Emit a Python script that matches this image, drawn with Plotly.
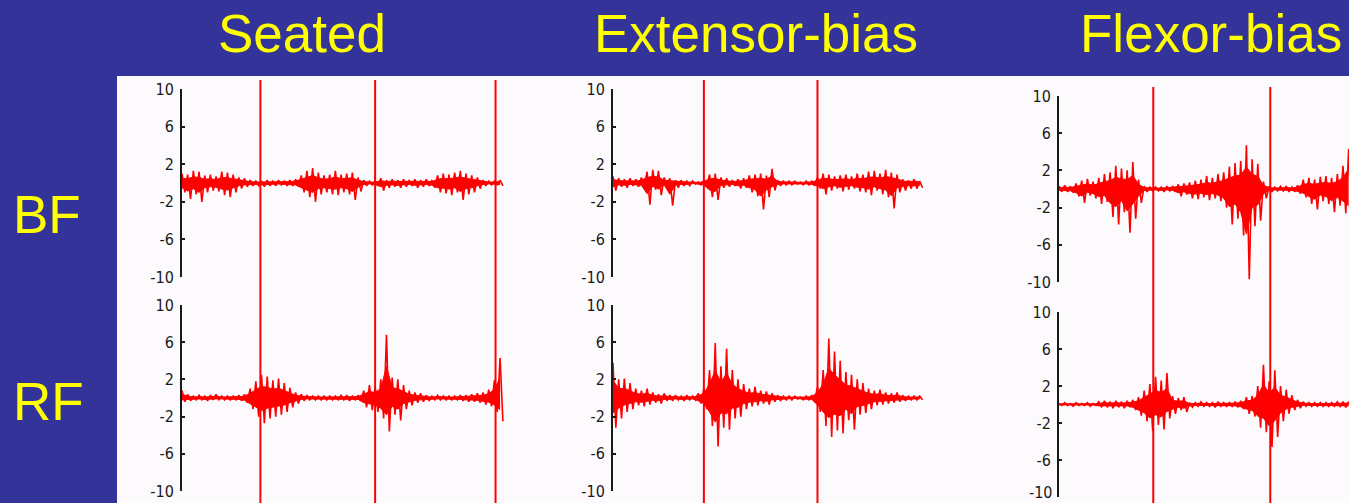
import plotly.graph_objects as go

# ---------------- data ----------------
column_titles = ["Seated", "Extensor-bias", "Flexor-bias"]
row_labels = ["BF", "RF"]
tick_values = [10, 6, 2, -2, -6, -10]
tick_labels = ["10", "6", "2", "-2", "-6", "-10"]
sample_step_s = 0.05  # seconds between envelope samples

# event markers (s) for each condition
seated_events = [0.69, 1.70, 2.76]
extensor_events = [0.80, 1.80]
flexor_events = [0.83, 1.86]

# EMG envelope samples (upper / lower peaks per step)
seated_bf_upper = [1.0, 0.9, 1.3, 1.2, 0.8, 0.9, 0.7, 1.2, 1.1, 0.9, 0.6, 0.5, 0.3, 0.2, 0.2, 0.3, 0.2, 0.3, 0.2, 0.3,
                   0.4, 0.8, 1.3, 1.6, 1.1, 0.8, 0.9, 1.3, 0.9, 1.0, 1.1, 0.6, 0.3, 0.2, 0.2, 0.5, 0.3, 0.4, 0.3, 0.4,
                   0.3, 0.4, 0.3, 0.4, 0.3, 0.8, 1.0, 0.9, 1.1, 1.3, 1.0, 0.8, 0.6, 0.3, 0.2, 0.2, 0.3]
seated_bf_lower = [-1.0, -1.7, -1.2, -2.0, -1.0, -0.8, -0.9, -1.3, -1.5, -1.0, -0.6, -0.4, -0.3, -0.3, -0.4, -0.3, -0.3,
                   -0.2, -0.3, -0.3, -0.4, -1.0, -1.5, -2.0, -1.2, -1.0, -1.2, -1.3, -1.0, -1.2, -1.8, -0.9, -0.3,
                   -0.2, -0.3, -0.8, -0.5, -0.4, -0.5, -0.4, -0.3, -0.5, -0.4, -0.3, -0.5, -1.0, -1.1, -1.3, -1.0,
                   -1.8, -1.2, -1.0, -0.6, -0.3, -0.2, -0.2, -0.3]
seated_rf_upper = [0.8, 0.4, 0.2, 0.3, 0.2, 0.3, 0.4, 0.2, 0.2, 0.2, 0.3, 0.4, 1.0, 1.8, 2.5, 2.3, 1.9, 2.1, 1.6, 1.1,
                   0.6, 0.4, 0.3, 0.2, 0.2, 0.2, 0.2, 0.2, 0.3, 0.3, 0.2, 0.3, 0.8, 1.4, 1.2, 2.0, 6.8, 2.2, 2.0, 1.4,
                   0.8, 0.6, 0.5, 0.3, 0.2, 0.3, 0.2, 0.2, 0.2, 0.3, 0.3, 0.4, 0.5, 0.6, 0.9, 1.9, 4.3]
seated_rf_lower = [-0.4, -0.3, -0.2, -0.2, -0.3, -0.2, -0.2, -0.2, -0.2, -0.2, -0.3, -0.5, -1.2, -2.0, -2.7, -2.2, -2.0,
                   -1.8, -1.5, -1.0, -0.6, -0.3, -0.2, -0.2, -0.2, -0.2, -0.2, -0.2, -0.2, -0.3, -0.2, -0.3, -1.0,
                   -1.3, -1.5, -2.2, -3.6, -1.8, -2.4, -1.2, -0.8, -0.5, -0.4, -0.3, -0.2, -0.2, -0.2, -0.2, -0.2,
                   -0.3, -0.4, -0.4, -0.5, -0.7, -0.9, -1.5, -2.5]

extensor_bf_upper = [0.7, 0.5, 0.4, 0.5, 0.4, 0.6, 1.2, 1.4, 1.3, 0.6, 0.5, 0.3, 0.3, 0.2, 0.2, 0.1, 0.3, 0.9, 1.0, 0.6,
                     0.5, 0.3, 0.4, 0.5, 0.8, 0.9, 1.0, 0.8, 1.5, 0.3, 0.2, 0.2, 0.2, 0.1, 0.2, 0.2, 0.6, 1.0, 0.9,
                     0.7, 0.8, 0.9, 0.7, 1.0, 0.9, 1.2, 1.3, 1.0, 1.4, 1.1, 0.9, 0.4, 0.3, 0.4, 0.2]
extensor_bf_lower = [-0.8, -0.4, -0.5, -0.3, -0.4, -0.5, -2.3, -0.7, -1.3, -0.4, -2.4, -0.5, -0.3, -0.3, -0.1, -0.2,
                     -0.4, -1.5, -1.8, -0.5, -0.4, -0.3, -0.6, -0.5, -1.0, -1.4, -2.8, -1.5, -0.8, -0.3, -0.2, -0.2,
                     -0.1, -0.2, -0.2, -0.3, -0.6, -1.2, -0.8, -0.6, -0.9, -0.7, -0.6, -0.9, -1.0, -1.3, -0.8, -1.2,
                     -1.5, -2.7, -1.0, -0.8, -0.6, -0.6, -0.5]
extensor_rf_upper = [3.8, 2.0, 2.1, 1.6, 1.0, 0.8, 1.0, 0.6, 0.4, 0.5, 0.3, 0.3, 0.2, 0.3, 0.2, 0.5, 1.0, 3.0, 5.9, 3.4,
                     5.3, 3.0, 2.0, 1.5, 1.0, 1.2, 0.8, 0.7, 0.5, 0.3, 0.2, 0.2, 0.2, 0.1, 0.2, 0.3, 1.2, 3.0, 6.4,
                     5.0, 4.0, 2.8, 2.5, 2.0, 1.6, 1.0, 0.8, 0.9, 0.6, 0.5, 0.6, 0.3, 0.2, 0.2, 0.2]
extensor_rf_lower = [-3.2, -2.2, -1.5, -1.2, -0.8, -0.9, -0.7, -0.5, -0.6, -0.3, -0.3, -0.2, -0.3, -0.2, -0.2, -0.6,
                     -1.2, -3.0, -5.2, -3.2, -3.4, -2.2, -2.0, -1.2, -0.9, -0.8, -0.6, -0.7, -0.4, -0.3, -0.2, -0.2,
                     -0.1, -0.2, -0.2, -0.3, -1.5, -3.0, -4.2, -3.5, -3.8, -2.4, -3.4, -1.8, -1.6, -1.2, -0.8, -0.7,
                     -0.6, -0.5, -0.4, -0.3, -0.2, -0.2, -0.2]

flexor_bf_upper = [0.3, 0.4, 0.3, 0.6, 0.9, 1.1, 0.8, 1.2, 1.6, 1.8, 2.5, 2.2, 2.0, 2.9, 1.0, 0.3, 0.2, 0.2, 0.2, 0.3,
                   0.3, 0.5, 0.6, 0.7, 0.9, 1.0, 1.4, 1.2, 1.6, 1.8, 2.4, 2.8, 3.0, 4.7, 3.2, 2.7, 0.8, 0.3, 0.2, 0.3,
                   0.3, 0.2, 0.4, 1.0, 1.2, 1.0, 1.3, 1.4, 1.2, 1.6, 2.5, 4.3]
flexor_bf_lower = [-0.3, -0.3, -0.4, -0.8, -1.5, -0.7, -1.0, -1.6, -1.4, -3.0, -3.8, -2.5, -4.7, -3.2, -1.5, -0.3, -0.2,
                   -0.2, -0.3, -0.2, -0.3, -0.8, -0.6, -1.0, -1.1, -0.9, -1.2, -1.0, -1.3, -2.0, -3.8, -3.2, -5.0,
                   -9.7, -4.0, -3.4, -1.0, -0.3, -0.2, -0.2, -0.3, -0.3, -0.5, -0.9, -1.6, -2.2, -1.3, -1.6, -2.5,
                   -1.8, -2.6, -3.6]
flexor_rf_upper = [0.1, 0.2, 0.1, 0.2, 0.1, 0.2, 0.1, 0.3, 0.4, 0.3, 0.4, 0.3, 0.4, 0.5, 0.8, 1.5, 2.2, 3.0, 2.6, 3.4,
                   0.9, 0.7, 0.8, 0.2, 0.2, 0.3, 0.2, 0.2, 0.3, 0.2, 0.2, 0.3, 0.4, 0.8, 0.9, 2.0, 4.3, 2.5, 3.7, 2.0,
                   1.6, 1.0, 0.5, 0.3, 0.2, 0.2, 0.2, 0.2, 0.2, 0.3, 0.3, 0.3]
flexor_rf_lower = [-0.1, -0.1, -0.2, -0.1, -0.1, -0.2, -0.1, -0.3, -0.3, -0.4, -0.3, -0.4, -0.3, -0.6, -1.2, -1.8, -2.9,
                   -2.2, -2.7, -1.5, -1.0, -0.6, -0.8, -0.3, -0.2, -0.2, -0.2, -0.3, -0.2, -0.2, -0.2, -0.3, -0.5,
                   -1.0, -1.3, -2.5, -3.0, -4.6, -3.5, -1.8, -1.0, -0.6, -0.4, -0.2, -0.2, -0.2, -0.2, -0.2, -0.2,
                   -0.2, -0.3, -0.3]

# ---------------- layout / style ----------------
W, H = 1349, 503
BLUE = "#333399"
YELLOW = "#ffff00"
RED = "#ff0000"
INK = "#1a1a1a"
PX_PER_S = 113.6
CORE_FRACTION = 0.5  # dense inner band of the EMG drawn as solid fill

col_axis_px = [182, 613, 1059]
col_x_end = [2.85, 2.75, 2.553]
# (top px of +10, bottom px of -10) per column for each row
row_px = [
    [(89, 277), (305, 491)],
    [(89, 277), (305, 491)],
    [(96, 282), (312, 497)],
]
line_top_px = [80, 80, 87]
title_cx = [302, 756, 1211]

signals = [
    [(seated_bf_upper, seated_bf_lower), (seated_rf_upper, seated_rf_lower)],
    [(extensor_bf_upper, extensor_bf_lower), (extensor_rf_upper, extensor_rf_lower)],
    [(flexor_bf_upper, flexor_bf_lower), (flexor_rf_upper, flexor_rf_lower)],
]
events = [seated_events, extensor_events, flexor_events]

fig = go.Figure()
layout = dict(
    width=W, height=H, margin=dict(l=0, r=0, t=0, b=0, pad=0, autoexpand=False),
    paper_bgcolor=BLUE, plot_bgcolor="rgba(0,0,0,0)",
    showlegend=False, hovermode=False,
)
shapes = [dict(type="rect", xref="paper", yref="paper", x0=117 / W, x1=1.0,
               y0=0, y1=1 - 76 / H, fillcolor="#fcfafd", line=dict(width=0), layer="below")]

tick_font = dict(family="Liberation Sans Narrow, DejaVu Sans Condensed, Arial Narrow, Liberation Sans",
                 size=16, color=INK)
annotations = []

for c in range(3):
    x0 = col_axis_px[c] / W
    x1 = min(1.0, (col_axis_px[c] + col_x_end[c] * PX_PER_S) / W)
    for r in range(2):
        n = c * 2 + r + 1
        sfx = "" if n == 1 else str(n)
        up, lo = signals[c][r]
        ts = [i * sample_step_s for i in range(len(up))]
        # dense core band
        fig.add_trace(go.Scatter(x=ts, y=[v * CORE_FRACTION for v in up], mode="lines",
                                 line=dict(color=RED, width=1), xaxis="x" + sfx, yaxis="y" + sfx,
                                 hoverinfo="skip"))
        fig.add_trace(go.Scatter(x=ts, y=[v * CORE_FRACTION for v in lo], mode="lines",
                                 line=dict(color=RED, width=1), fill="tonexty", fillcolor=RED,
                                 xaxis="x" + sfx, yaxis="y" + sfx, hoverinfo="skip"))
        # oscillating trace reaching the peaks
        xs, ys = [], []
        for i in range(len(up)):
            xs += [ts[i], ts[i] + sample_step_s / 2]
            ys += [up[i], lo[i]]
        fig.add_trace(go.Scatter(x=xs, y=ys, mode="lines", line=dict(color=RED, width=1.6),
                                 xaxis="x" + sfx, yaxis="y" + sfx, hoverinfo="skip"))
        top, bot = row_px[c][r]
        labels = list(tick_labels)
        if bot > H - 8:
            # lowest label would run past the page edge: place it as text just above the edge
            annotations.append(dict(text=labels[-1], xref="paper", yref="paper",
                                    x=(col_axis_px[c] - 5) / W, y=0, xanchor="right", yanchor="bottom",
                                    showarrow=False, font=tick_font, borderpad=0))
            labels[-1] = ""
        layout["xaxis" + sfx] = dict(domain=[x0, x1], range=[0, col_x_end[c]], visible=False,
                                     anchor="y" + sfx, fixedrange=True, automargin=False)
        layout["yaxis" + sfx] = dict(domain=[1 - bot / H, 1 - top / H], range=[-10, 10],
                                     anchor="x" + sfx, tickmode="array", tickvals=tick_values,
                                     ticktext=labels, ticks="inside", ticklen=3, tickwidth=1.5,
                                     tickcolor=INK, showline=True, linecolor=INK, linewidth=2,
                                     showgrid=False, zeroline=False, tickfont=tick_font,
                                     ticklabelstandoff=3, ticklabeloverflow="allow",
                                     fixedrange=True, automargin=False)
    sfx = "" if c == 0 else str(c * 2 + 1)
    for ev in events[c]:
        shapes.append(dict(type="line", xref="x" + sfx, yref="paper", x0=ev, x1=ev,
                           y0=0, y1=1 - line_top_px[c] / H, line=dict(color=RED, width=2)))

title_font = dict(family="Liberation Sans, Arial, sans-serif", size=53, color=YELLOW)
for c, txt in enumerate(column_titles):
    annotations.append(dict(text=txt, xref="paper", yref="paper", x=title_cx[c] / W, y=1 - 34 / H,
                            xanchor="center", yanchor="middle", showarrow=False, font=title_font))
for r, (txt, cy) in enumerate(zip(row_labels, [214, 401])):
    annotations.append(dict(text=txt, xref="paper", yref="paper", x=11 / W, y=1 - cy / H,
                            xanchor="left", yanchor="middle", showarrow=False, font=title_font))

layout["shapes"] = shapes
layout["annotations"] = annotations
fig.update_layout(**layout)
fig.write_html("out.html", config={"displayModeBar": False})
